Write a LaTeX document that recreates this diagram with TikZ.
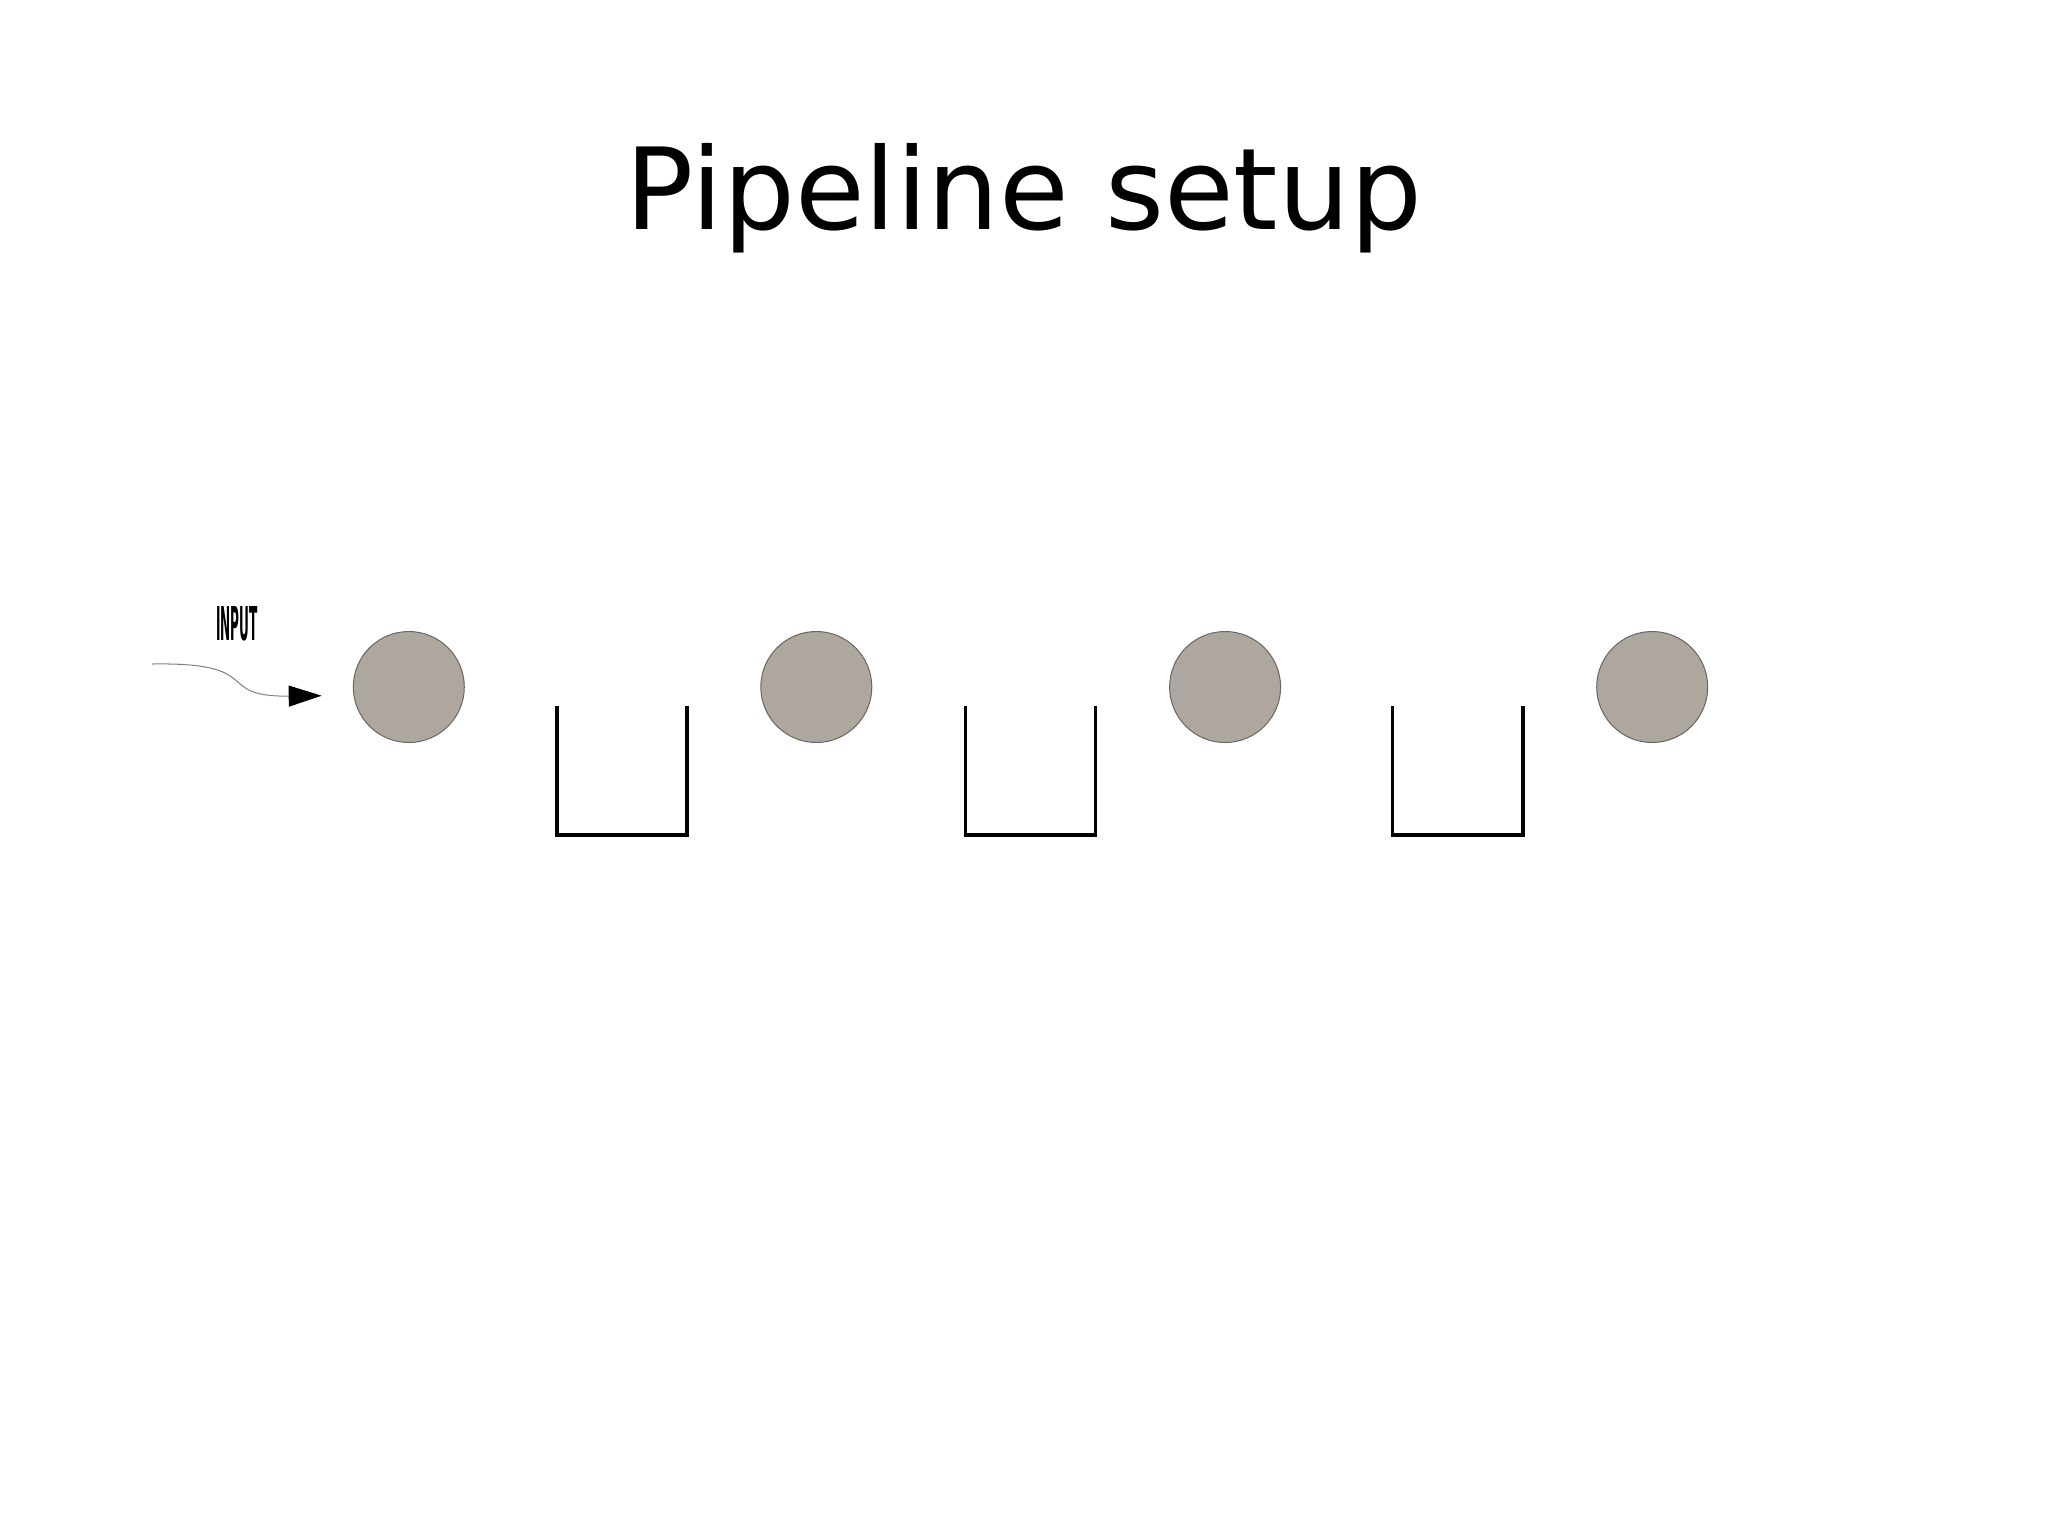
\documentclass[tikz,border=0pt]{standalone}
\usepackage{fontspec}
\setmainfont{DejaVu Sans}
\usetikzlibrary{arrows.meta}
\definecolor{stagefill}{HTML}{ADA7A0}
\definecolor{stageedge}{HTML}{6A6662}
\definecolor{curvegray}{HTML}{808080}
\tikzset{
  stage/.style={circle, fill=stagefill, draw=stageedge, line width=1pt, minimum size=111pt, inner sep=0pt},
  bucket/.style={line width=3.2pt, draw=black},
  inarrow/.style={draw=curvegray, line width=1pt, -{Triangle[length=33pt,width=21pt,color=black]}},
}
\begin{document}
\begin{tikzpicture}[x=1pt,y=-1pt]
\useasboundingbox (0,0) rectangle (2048,1535);
\fill[white] (0,0) rectangle (2048,1535);
% title
\node[anchor=base, inner sep=0pt, font=\fontsize{113.3}{130}\selectfont] (title) at (1024,229) {Pipeline setup};
% input label
\node[inner sep=0pt, font=\bfseries\fontsize{46.6}{50}\selectfont, xscale=0.26] (inlabel) at (237,624) {INPUT};
% stages
\node[stage] (s1) at (408.8,687) {};
\node[stage] (s2) at (816.3,687) {};
\node[stage] (s3) at (1225.1,687) {};
\node[stage] (s4) at (1652.2,687) {};
% buckets
\draw[bucket] (557,706) -- (557,835) -- (687,835) -- (687,706);
\draw[bucket] (965.2,706) -- (965.2,835) -- (1095.8,835) -- (1095.8,706);
\draw[bucket] (1392.3,706) -- (1392.3,835) -- (1522.9,835) -- (1522.9,706);
% input arrow
\coordinate (instart) at (152,664);
\coordinate (inend) at (321.7,695.7);
\draw[inarrow] (instart) .. controls (268,662) and (212,697) .. (inend);
\end{tikzpicture}
\end{document}
